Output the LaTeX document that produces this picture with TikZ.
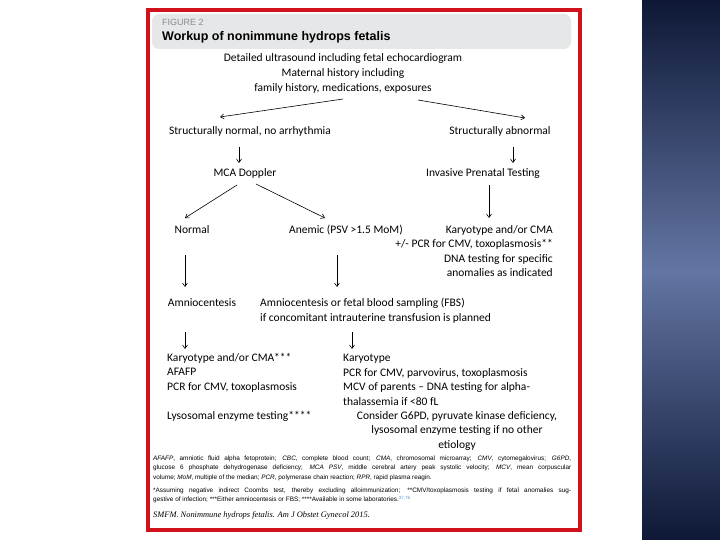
\documentclass[tikz,border=0pt]{standalone}
\usepackage{fontspec}
\setmainfont{Carlito}
\newfontfamily\notefont{Liberation Sans}
\newfontfamily\citefont{Liberation Serif}
\usetikzlibrary{arrows.meta,calc}

\definecolor{framered}{HTML}{D2121B}
\definecolor{headgray}{HTML}{E6E7E8}
\definecolor{figgray}{HTML}{8A8C8F}
\definecolor{citeblue}{HTML}{5B8FC9}
\definecolor{navyend}{HTML}{0E1836}
\definecolor{navymid}{HTML}{6375A3}

\begin{document}
\begin{tikzpicture}[x=1pt,y=-1pt,
		txt/.style={inner sep=0pt,font=\fontsize{11.5}{14.5}\selectfont},
		note/.style={inner sep=0pt,text width=418pt,align=justify,font=\notefont\fontsize{6.4}{9.6}\selectfont},
		arr/.style={-{Straight Barb[length=3.5pt,width=5pt]},line width=0.6pt}]

		\useasboundingbox (0,0) rectangle (720,540);
		\fill[white] (0,0) rectangle (720,540);
		\shade[top color=navyend,bottom color=navyend,middle color=navymid] (642,0) rectangle (720,540);

		\fill[headgray,rounded corners=7pt] (152,14) rectangle (571,49);
		\node[inner sep=0pt,anchor=west,text=figgray,font=\notefont\fontsize{9}{10}\selectfont] (fig) at (162,22.5) {FIGURE 2};
		\node[inner sep=0pt,anchor=west,font=\notefont\bfseries\fontsize{12.5}{14}\selectfont] (title) at (162,37.5) {Workup of nonimmune hydrops fetalis};

		\node[txt,align=center,font=\fontsize{11.5}{15}\selectfont] (echo) at (343,73.5) {Detailed ultrasound including fetal echocardiogram\\Maternal history including\\family history, medications, exposures};
		\node[txt] (snorm) at (250,131) {Structurally normal, no arrhythmia};
		\node[txt] (sabn) at (500,131) {Structurally abnormal};
		\node[txt] (mca) at (245,173) {MCA Doppler};
		\node[txt] (ipt) at (483,173) {Invasive Prenatal Testing};
		\node[txt] (normal) at (192,230) {Normal};
		\node[txt] (anemic) at (346,230) {Anemic (PSV >1.5 MoM)};
		\node[txt,align=right,anchor=east] (karyo) at (553,251) {Karyotype and/or CMA\\+/- PCR for CMV, toxoplasmosis**\\DNA testing for specific\\anomalies as indicated};
		\node[txt] (amnio) at (202,303) {Amniocentesis};
		\node[txt,align=left,anchor=west,font=\fontsize{11.5}{15}\selectfont] (fbs) at (260,310.5) {Amniocentesis or fetal blood sampling (FBS)\\if concomitant intrauterine transfusion is planned};
		\node[txt,align=left,anchor=west] (resl) at (167,387) {Karyotype and/or CMA***\\AFAFP\\PCR for CMV, toxoplasmosis\\[14.5pt]Lysosomal enzyme testing****};
		\node[txt,align=left,anchor=west] (resr) at (343,380) {Karyotype\\PCR for CMV, parvovirus, toxoplasmosis\\MCV of parents -- DNA testing for alpha-\\thalassemia if <80 fL};
		\node[txt,align=center] (other) at (457,430.5) {Consider G6PD, pyruvate kinase deficiency,\\lysosomal enzyme testing if no other\\etiology};

		\draw[arr] ($(echo.center)+(0,25.5)$) -- ($(snorm.center)+(-30,-14)$);
		\draw[arr] ($(echo.center)+(75,26.5)$) -- ($(sabn.center)+(25,-13)$);
		\draw[arr] ($(snorm.center)+(-11,16)$) -- ($(mca.center)+(-6,-10)$);
		\draw[arr] ($(sabn.center)+(13,16)$) -- ($(ipt.center)+(30,-10)$);
		\draw[arr] ($(mca.center)+(-8,12)$) -- ($(normal.center)+(-7,-12)$);
		\draw[arr] ($(mca.center)+(11,11)$) -- ($(anemic.center)+(-21,-12)$);
		\draw[arr] ($(ipt.center)+(6,12)$) -- ($(karyo.east)+(-64,-33)$);
		\draw[arr] ($(normal.center)+(-7,25)$) -- ($(amnio.center)+(-17,-16)$);
		\draw[arr] ($(anemic.center)+(-9,25)$) -- ($(fbs.west)+(77,-23.5)$);
		\draw[arr] ($(amnio.center)+(-17,29)$) -- ($(resl.west)+(18,-38)$);
		\draw[arr] ($(fbs.west)+(92,21.5)$) -- ($(resr.west)+(9,-31)$);

		\node[note,anchor=north west] (abbr) at (153,455.5) {\textit{AFAFP}, amniotic fluid alpha fetoprotein; \textit{CBC}, complete blood count; \textit{CMA}, chromosomal microarray; \textit{CMV}, cytomegalovirus; \textit{G6PD},\linebreak glucose 6 phosphate dehydrogenase deficiency; \textit{MCA PSV}, middle cerebral artery peak systolic velocity; \textit{MCV}, mean corpuscular\linebreak volume; \textit{MoM}, multiple of the median; \textit{PCR}, polymerase chain reaction; \textit{RPR}, rapid plasma reagin.};
		\node[note,anchor=north west] (stars) at (153,487.5) {*Assuming negative indirect Coombs test, thereby excluding alloimmunization; **CMV/toxoplasmosis testing if fetal anomalies sug-\linebreak gestive of infection; ***Either amniocentesis or FBS; ****Available in some laboratories.\textsuperscript{\color{citeblue}37,76}};
		\node[inner sep=0pt,anchor=west,font=\citefont\itshape\fontsize{8.4}{10}\selectfont] (smfm) at (153,515) {SMFM. Nonimmune hydrops fetalis. Am J Obstet Gynecol 2015.};

		\draw[framered,line width=4.5pt] (148,10) rectangle (580,530);

	\end{tikzpicture}
\end{document}
